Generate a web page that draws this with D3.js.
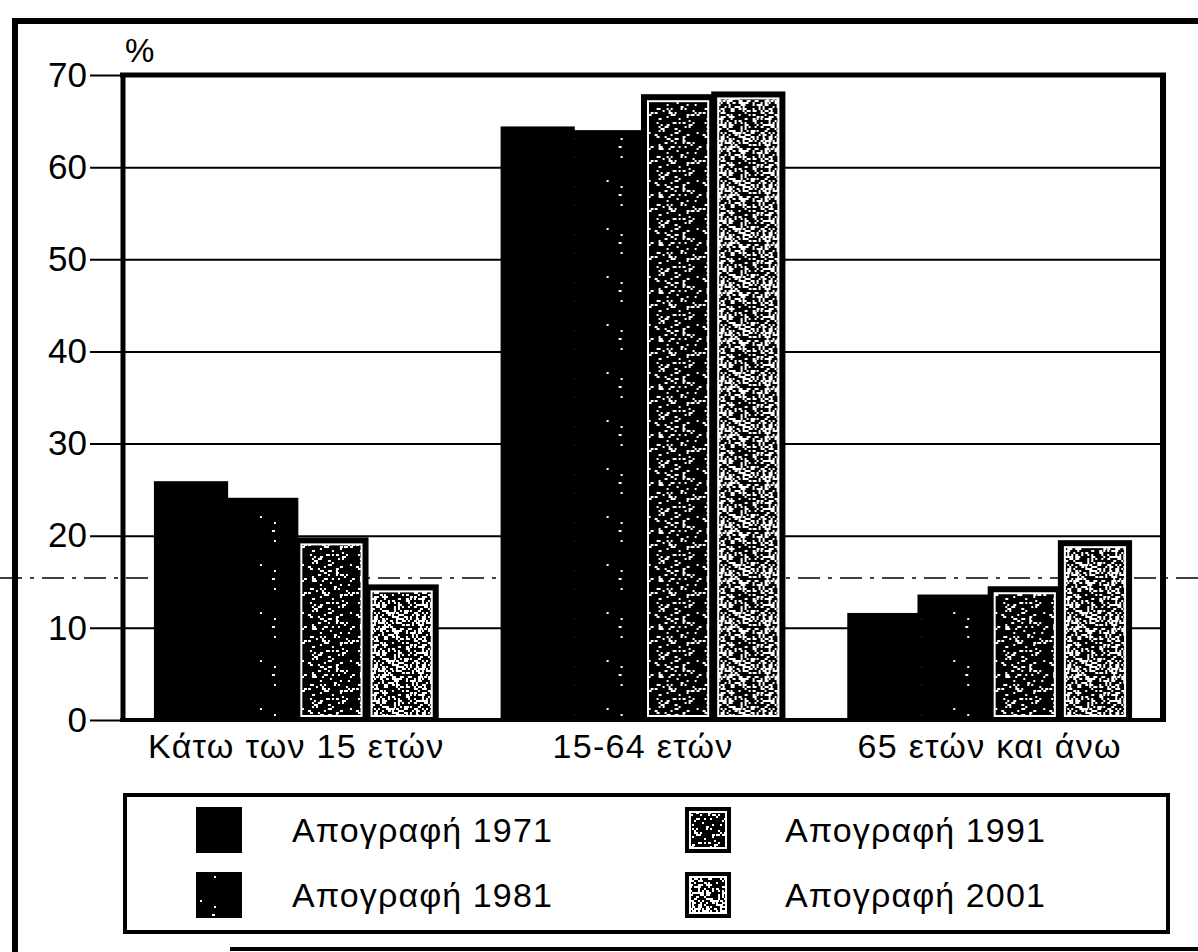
<!DOCTYPE html>
<html>
<head>
<meta charset="utf-8">
<script src="https://cdn.jsdelivr.net/npm/d3@7"></script>
<style>
  html, body { margin: 0; padding: 0; background: #fff; }
  svg { display: block; }
  text { font-family: "Liberation Sans", Arial, Helvetica, sans-serif; fill: #000; }
</style>
</head>
<body>
<script>
// ---- data ----
const categories = ["Κάτω των 15 ετών", "15-64 ετών", "65 ετών και άνω"];
const seriesNames = ["Απογραφή 1971", "Απογραφή 1981", "Απογραφή 1991", "Απογραφή 2001"];
const values1971 = [25.7, 64.2, 11.4];
const values1981 = [23.9, 63.8, 13.4];
const values1991 = [19.6, 67.7, 14.3];
const values2001 = [14.5, 68.0, 19.3];
const yTicks = [0, 10, 20, 30, 40, 50, 60, 70];
const yUnit = "%";

const seriesValues = [values1971, values1981, values1991, values2001];

// ---- layout ----
const W = 1198, H = 952;
const plot = { left: 123, right: 1163, top: 75, bottom: 720 };

const svg = d3.select("body").append("svg").attr("width", W).attr("height", H);
svg.append("rect").attr("width", W).attr("height", H).attr("fill", "#fff");

// ---- speckle patterns (decorative texture imitating the scanned halftone) ----
const defs = svg.append("defs");
function hash(i) { const s = Math.sin(i * 12.9898 + 78.233) * 43758.5453; return s - Math.floor(s); }
function speckPattern(id, density, seed) {
  const size = 48, cell = 2;
  const p = defs.append("pattern").attr("id", id).attr("patternUnits", "userSpaceOnUse")
    .attr("width", size).attr("height", size);
  p.append("rect").attr("width", size).attr("height", size).attr("fill", "#000");
  let k = seed;
  for (let r = 0; r < size / cell; r++) {
    for (let c = 0; c < size / cell; c++) {
      k++;
      if (hash(k) < density) {
        const big = hash(k * 7 + 3) < 0.3;
        p.append("rect").attr("x", c * cell).attr("y", r * cell)
          .attr("width", big ? 3 : 2).attr("height", 2).attr("fill", "#fff");
      }
    }
  }
}
speckPattern("p1981", 0.015, 100);
speckPattern("p1991", 0.17, 5000);
speckPattern("p2001", 0.36, 9000);
const fills = ["#000", "url(#p1981)", "url(#p1991)", "url(#p2001)"];
const framed = [false, false, true, true];

// ---- scan artifact dashed line ----
svg.append("line").attr("x1", 0).attr("x2", W).attr("y1", 578).attr("y2", 578)
  .attr("stroke", "#000").attr("stroke-width", 1.5).attr("stroke-dasharray", "22,8,4,8");

// ---- scales ----
const x0 = d3.scaleBand().domain(categories).range([plot.left, plot.right])
  .paddingInner(0.19).paddingOuter(0.095);
const x1 = d3.scaleBand().domain(seriesNames).range([0, x0.bandwidth()]).padding(0);
const y = d3.scaleLinear().domain([0, 70]).range([plot.bottom, plot.top]);

// ---- gridlines ----
const grid = svg.append("g").attr("transform", `translate(${plot.left},0)`)
  .call(d3.axisLeft(y).tickValues(yTicks.filter(t => t > 0 && t < 70))
    .tickSize(-(plot.right - plot.left)).tickFormat(""));
grid.select(".domain").remove();
grid.selectAll("line").attr("stroke", "#000").attr("stroke-width", 2);

// ---- y axis ticks + labels ----
const yAxis = svg.append("g").attr("transform", `translate(${plot.left},0)`)
  .call(d3.axisLeft(y).tickValues(yTicks).tickSize(33).tickPadding(3));
yAxis.select(".domain").remove();
yAxis.selectAll("line").attr("stroke", "#000").attr("stroke-width", 2);
yAxis.selectAll("text").attr("font-size", 35).attr("fill", "#000")
  .style("font-family", "'Liberation Sans', Arial, sans-serif");

svg.append("text").attr("x", plot.left + 2).attr("y", 62).attr("font-size", 33).text(yUnit);

// ---- bars ----
const groups = svg.append("g").selectAll("g").data(categories).join("g")
  .attr("transform", d => `translate(${x0(d)},0)`);
groups.each(function (cat, ci) {
  const g = d3.select(this);
  seriesNames.forEach((s, si) => {
    const v = seriesValues[si][ci];
    const bx = x1(s), bw = x1.bandwidth();
    const by = y(v), bh = y(0) - y(v);
    g.append("rect").attr("x", bx).attr("y", by).attr("width", bw).attr("height", bh)
      .attr("fill", framed[si] ? "#000" : fills[si]).attr("stroke", "#000").attr("stroke-width", 4);
    if (framed[si]) {
      g.append("rect").attr("x", bx + 5).attr("y", by + 5).attr("width", bw - 10).attr("height", bh - 9)
        .attr("fill", fills[si]).attr("stroke", "#fff").attr("stroke-width", 2);
    }
  });
});

// ---- plot frame ----
const frame = svg.append("g").attr("stroke", "#000").attr("fill", "none");
frame.append("line").attr("x1", plot.left - 3).attr("x2", plot.right + 3).attr("y1", plot.top).attr("y2", plot.top).attr("stroke-width", 5);
frame.append("line").attr("x1", plot.left).attr("x2", plot.left).attr("y1", plot.top - 2).attr("y2", plot.bottom + 2).attr("stroke-width", 5);
frame.append("line").attr("x1", plot.right).attr("x2", plot.right).attr("y1", plot.top - 2).attr("y2", plot.bottom + 2).attr("stroke-width", 6);
frame.append("line").attr("x1", plot.left - 3).attr("x2", plot.right + 3).attr("y1", plot.bottom).attr("y2", plot.bottom).attr("stroke-width", 4);

// ---- category labels ----
svg.append("g").selectAll("text").data(categories).join("text")
  .attr("x", d => x0(d) + x0.bandwidth() / 2).attr("y", 758)
  .attr("text-anchor", "middle").attr("font-size", 34).attr("letter-spacing", 1.3).text(d => d);

// ---- legend ----
svg.append("rect").attr("x", 125).attr("y", 795).attr("width", 1043).attr("height", 137)
  .attr("fill", "none").attr("stroke", "#000").attr("stroke-width", 4);
const swX = [196, 685], txX = [292, 785], rowY = [807, 872];
seriesNames.forEach((s, si) => {
  const col = Math.floor(si / 2), row = si % 2;
  const sx = swX[col], sy = rowY[row], sw = 46, sh = 46;
  svg.append("rect").attr("x", sx).attr("y", sy).attr("width", sw).attr("height", sh)
    .attr("fill", framed[si] ? "#000" : fills[si]);
  if (framed[si]) {
    svg.append("rect").attr("x", sx + 5).attr("y", sy + 5).attr("width", sw - 10).attr("height", sh - 10)
      .attr("fill", fills[si]).attr("stroke", "#fff").attr("stroke-width", 2);
  }
  svg.append("text").attr("x", txX[col]).attr("y", sy + 35).attr("font-size", 34)
    .attr("letter-spacing", 1.1).text(s);
});

// ---- outer page frame ----
const outer = svg.append("g").attr("stroke", "#000");
outer.append("line").attr("x1", 12).attr("x2", W).attr("y1", 21).attr("y2", 21).attr("stroke-width", 6);
outer.append("line").attr("x1", 15).attr("x2", 15).attr("y1", 18).attr("y2", H).attr("stroke-width", 6);
outer.append("line").attr("x1", 230).attr("x2", W).attr("y1", 949).attr("y2", 949).attr("stroke-width", 4);
</script>
</body>
</html>
